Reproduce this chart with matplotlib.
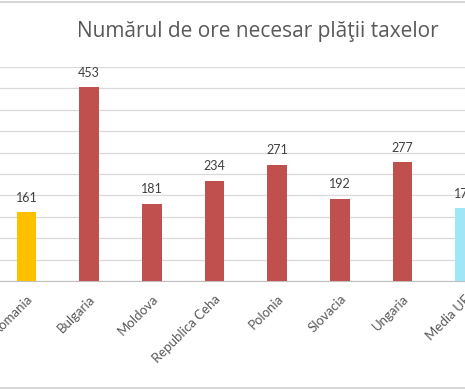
import matplotlib.pyplot as plt
from matplotlib.lines import Line2D

categories = ['Romania', 'Bulgaria', 'Moldova', 'Republica Ceha', 'Polonia',
              'Slovacia', 'Ungaria', 'Media UE']
hours = [161, 453, 181, 234, 271, 192, 277, 170]
colors = ['#FFC000', '#C0504D', '#C0504D', '#C0504D', '#C0504D',
          '#C0504D', '#C0504D', '#9FE6F7']

plt.rcParams['font.family'] = ['Lato', 'DejaVu Sans']

fig = plt.figure(figsize=(4.65, 3.9), dpi=100)
ax = fig.add_axes([0, 0.2795, 1, 0.5487])

# one category step is about 63.9 px, Romania sits at 27 px
step = 63.9
x = list(range(len(categories)))
ax.bar(x, hours, width=20 / step, color=colors, zorder=3)

for xi, v in zip(x, hours):
    ax.text(xi, v + 20, str(v), ha='center', va='bottom', fontsize=9,
            color='#404040')

ax.set_xlim(-27 / step, (465 - 27) / step)
ax.set_ylim(0, 500)
ax.set_yticks(range(0, 501, 50))
ax.yaxis.grid(True, color='#d9d9d9', linewidth=0.9, zorder=0)
ax.tick_params(axis='y', left=False, labelleft=False)
ax.tick_params(axis='x', bottom=False, pad=5)
ax.set_xticks(x)
ax.set_xticklabels(categories, rotation=45, ha='right', va='top',
                   rotation_mode='anchor', fontsize=9.5, color='#595959')
for s in ['top', 'left', 'right']:
    ax.spines[s].set_visible(False)
ax.spines['bottom'].set_color('#bfbfbf')

fig.text(77 / 465, 1 - 31 / 390, 'Numărul de ore necesar plăţii taxelor',
         ha='left', va='center', fontsize=15, color='#595959',
         family=['Open Sans', 'DejaVu Sans'])

# chart border lines at top and bottom
fig.add_artist(Line2D([0, 1], [1 - 2 / 390, 1 - 2 / 390],
                      transform=fig.transFigure, color='#d0d0d0', linewidth=1.2))
fig.add_artist(Line2D([0, 1], [2 / 390, 2 / 390],
                      transform=fig.transFigure, color='#d0d0d0', linewidth=1.2))

fig.savefig('out.png', dpi=100)
